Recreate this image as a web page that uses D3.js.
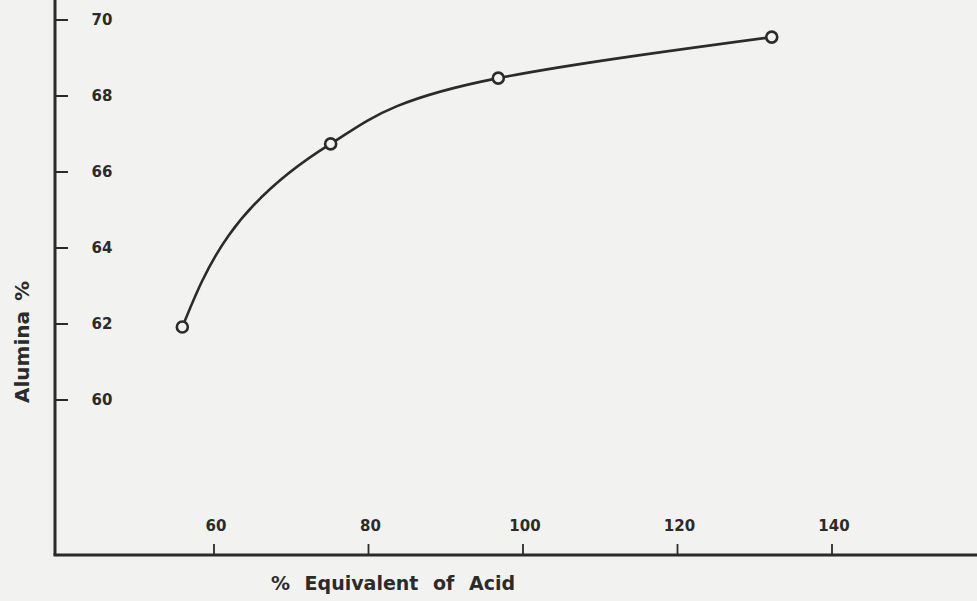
<!DOCTYPE html>
<html>
<head>
<meta charset="utf-8">
<script src="https://cdn.jsdelivr.net/npm/d3@7"></script>
<style>
  body { margin: 0; background: #f2f2f0; }
  svg { display: block; }
  text { font-family: "DejaVu Sans", sans-serif; font-weight: bold; fill: #2b2b2b; }
</style>
</head>
<body>
<script>
// values
const acidPct = [55.9, 75.1, 96.8, 132.2];
const aluminaPct = [61.92, 66.74, 68.47, 69.55];
const xTicks = [60, 80, 100, 120, 140];
const yTicks = [60, 62, 64, 66, 68, 70];

const width = 977, height = 601;
const ink = "#2b2b2b";

const svg = d3.select("body").append("svg")
    .attr("width", width).attr("height", height);

// axis lines sit at x=55 and y=555
const axisX = 55, axisY = 555;

const x = d3.scaleLinear().domain([60, 140]).range([214, 832]);
const y = d3.scaleLinear().domain([60, 70]).range([400, 20]);

// axes frame
svg.append("line")
    .attr("x1", axisX).attr("x2", axisX)
    .attr("y1", 0).attr("y2", axisY)
    .attr("stroke", ink).attr("stroke-width", 3);
svg.append("line")
    .attr("x1", axisX - 1.5).attr("x2", width)
    .attr("y1", axisY).attr("y2", axisY)
    .attr("stroke", ink).attr("stroke-width", 3);

// y ticks (pointing inward) and labels
const yg = svg.append("g");
yg.selectAll("line").data(yTicks).join("line")
    .attr("x1", axisX).attr("x2", axisX + 13)
    .attr("y1", d => y(d)).attr("y2", d => y(d))
    .attr("stroke", ink).attr("stroke-width", 2);
yg.selectAll("text").data(yTicks).join("text")
    .attr("x", 102).attr("y", d => y(d))
    .attr("dy", "0.35em")
    .attr("text-anchor", "middle")
    .style("font-size", "15px")
    .text(d => d);

// x ticks (pointing up) and labels
const xg = svg.append("g");
xg.selectAll("line").data(xTicks).join("line")
    .attr("x1", d => x(d)).attr("x2", d => x(d))
    .attr("y1", axisY).attr("y2", axisY - 11)
    .attr("stroke", ink).attr("stroke-width", 1.8);
xg.selectAll("text").data(xTicks).join("text")
    .attr("x", d => x(d) + 2).attr("y", 531)
    .attr("text-anchor", "middle")
    .style("font-size", "15px")
    .text(d => d);

// titles
svg.append("text")
    .attr("transform", "translate(29,342) rotate(-90)")
    .attr("text-anchor", "middle")
    .style("font-size", "20px")
    .style("word-spacing", "3px")
    .text("Alumina %");
svg.append("text")
    .attr("x", 393).attr("y", 590)
    .attr("text-anchor", "middle")
    .style("font-size", "19px")
    .style("word-spacing", "8px")
    .text("% Equivalent of Acid");

// curve + points (monotone in y gives the steep start / flat end of the hand-drawn curve)
const pts = acidPct.map((a, i) => [a, aluminaPct[i]]);
const line = d3.line()
    .x(d => x(d[0])).y(d => y(d[1]))
    .curve(d3.curveMonotoneY);

svg.append("path")
    .attr("d", line(pts))
    .attr("fill", "none")
    .attr("stroke", ink).attr("stroke-width", 2.6);

svg.selectAll("circle.pt").data(pts).join("circle")
    .attr("class", "pt")
    .attr("cx", d => x(d[0])).attr("cy", d => y(d[1]))
    .attr("r", 5.5)
    .attr("fill", "#f2f2f0")
    .attr("stroke", ink).attr("stroke-width", 2.6);
</script>
</body>
</html>
